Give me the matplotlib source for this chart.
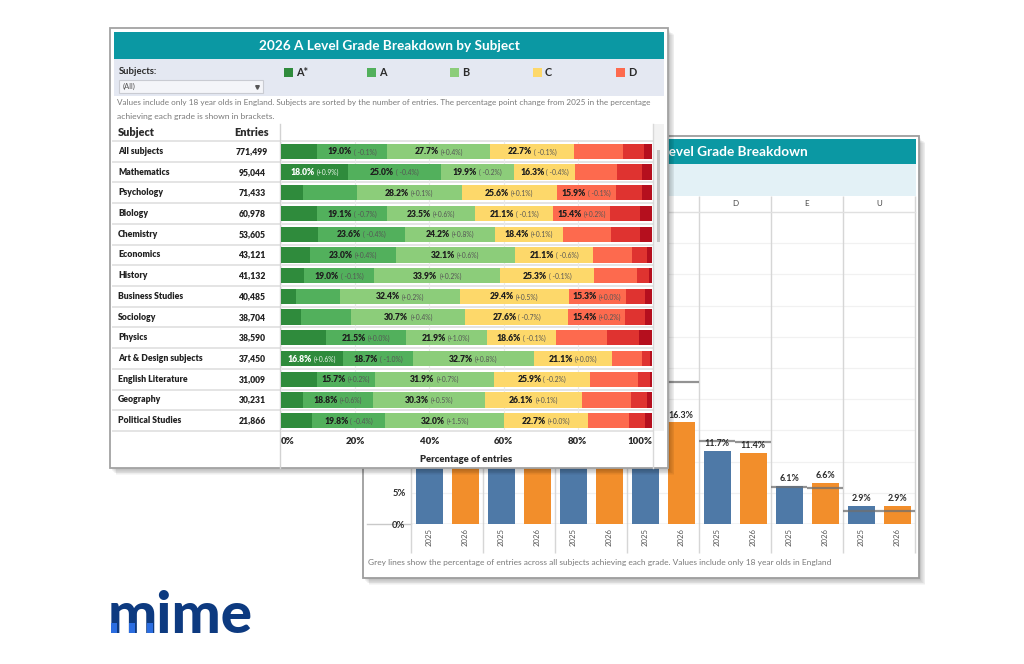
import matplotlib
matplotlib.use('Agg')
import matplotlib.pyplot as plt
import matplotlib.transforms as mtransforms
from matplotlib.patches import Rectangle
import numpy as np

plt.rcParams['font.family'] = ['Lato', 'DejaVu Sans']

# ---------------- data ----------------
grades = ["A*", "A", "B", "C", "D", "E", "U"]
subjects = ["All subjects", "Mathematics", "Psychology", "Biology", "Chemistry",
            "Economics", "History", "Business Studies", "Sociology", "Physics",
            "Art & Design subjects", "English Literature", "Geography", "Political Studies"]
entries = [771499, 95044, 71433, 60978, 53605, 43121, 41132, 40485, 38704, 38590,
           37450, 31009, 30231, 21866]

pct_a_star = [9.6, 18.0, 6.0, 9.6, 9.9, 7.9, 6.2, 4.0, 5.3, 12.1, 16.8, 9.7, 5.9, 8.3]
pct_a = [19.0, 25.0, 14.5, 19.1, 23.6, 23.0, 19.0, 11.8, 13.7, 21.5, 18.7, 15.7, 18.8, 19.8]
pct_b = [27.7, 19.9, 28.2, 23.5, 24.2, 32.1, 33.9, 32.4, 30.7, 21.9, 32.7, 31.9, 30.3, 32.0]
pct_c = [22.7, 16.3, 25.6, 21.1, 18.4, 21.1, 25.3, 29.4, 27.6, 18.6, 21.1, 25.9, 26.1, 22.7]
pct_d = [13.1, 11.4, 15.9, 15.4, 12.9, 10.5, 11.6, 15.3, 15.4, 13.8, 7.9, 13.0, 13.3, 11.1]
pct_e = [5.8, 6.6, 7.2, 8.1, 7.8, 4.0, 3.1, 5.2, 5.4, 8.5, 2.3, 3.2, 4.2, 4.3]
pct_u = [2.1, 2.9, 2.6, 3.2, 3.2, 1.4, 0.9, 1.9, 1.9, 3.6, 0.5, 0.6, 1.4, 1.8]

chg_a_star = [None, 0.9, None, None, None, None, None, None, None, None, 0.6, None, None, None]
chg_a = [-0.1, -0.4, None, -0.7, -0.4, 0.4, -0.1, None, None, 0.0, -1.0, 0.2, 0.6, -0.4]
chg_b = [0.4, -0.2, 0.1, 0.6, 0.8, 0.6, 0.2, 0.2, 0.4, 1.0, 0.8, 0.7, 0.5, 1.5]
chg_c = [-0.1, -0.4, 0.1, -0.1, 0.1, -0.6, -0.1, 0.5, -0.7, -0.1, 0.0, -0.2, 0.1, 0.0]
chg_d = [None, None, -0.1, 0.2, None, None, None, 0.0, 0.2, None, None, None, None, None]
chg_e = [None] * 14
chg_u = [None] * 14

years = ["2025", "2026"]
maths_2025 = [17.1, 25.4, 20.1, 16.7, 11.7, 6.1, 2.9]
maths_2026 = [18.0, 25.0, 19.9, 16.3, 11.4, 6.6, 2.9]
all_2025 = [9.4, 19.1, 27.3, 22.8, 13.3, 6.0, 2.1]
all_2026 = [9.6, 19.0, 27.7, 22.7, 13.1, 5.8, 2.1]

pct_cols = [pct_a_star, pct_a, pct_b, pct_c, pct_d, pct_e, pct_u]
chg_cols = [chg_a_star, chg_a, chg_b, chg_c, chg_d, chg_e, chg_u]

# ---------------- styles ----------------
grade_colors = ['#2f8b3c', '#52b05c', '#8ccd7a', '#fdd86a', '#fd6a4e', '#df3330', '#b50f1e']
teal = '#0b98a3'
c2025 = '#4e79a7'
c2026 = '#f28e2b'
txt = '#2b2b2b'

W, H = 1024, 664
fig = plt.figure(figsize=(10.24, 6.64), dpi=100)
fig.patch.set_facecolor('white')
renderer = fig.canvas.get_renderer()


def add_px_axes(x0, y0, x1, y1, z):
    ax = fig.add_axes([x0 / W, 1 - y1 / H, (x1 - x0) / W, (y1 - y0) / H])
    ax.set_zorder(z)
    return ax


def panel_axes(x0, y0, x1, y1, z):
    ax = add_px_axes(x0, y0, x1, y1, z)
    ax.set_xlim(x0, x1)
    ax.set_ylim(y1, y0)
    ax.axis('off')
    return ax


def shadow(ax, x, y, w, h, n=7):
    for k in range(n, 0, -1):
        ax.add_patch(Rectangle((x + k * 0.8, y + k * 0.9), w, h, facecolor='black',
                               alpha=0.035, edgecolor='none'))


back_texts = []

# ================= BACK PANEL =================
bx0, by0, bx1, by1 = 363, 136, 919, 578
bb = panel_axes(350, 125, 940, 595, 1)
shadow(bb, bx0, by0, bx1 - bx0, by1 - by0, n=8)
bb.add_patch(Rectangle((bx0, by0), bx1 - bx0, by1 - by0, facecolor='white',
                       edgecolor='#9d9d9d', lw=1.3))
bb.add_patch(Rectangle((366, 139), 550, 25, facecolor=teal, edgecolor='none'))
bb.text(808, 152, "Mathematics A Level Grade Breakdown", color='white',
        fontsize=9.8, fontweight='bold', ha='right', va='center')
bb.add_patch(Rectangle((366, 164), 550, 32, facecolor='#e3f1f6', edgecolor='none'))
bb.plot([367, 411], [524, 524], color='#c9c9c9', lw=1)
bb.text(368, 563, "Grey lines show the percentage of entries across all subjects achieving each grade. "
        "Values include only 18 year olds in England", color='#7a7a7a', fontsize=6.0,
        ha='left', va='center')

axb = add_px_axes(411, 212, 915, 524, 2)
axb.set_facecolor('white')
x = np.arange(len(grades))
axb.set_xlim(0, len(grades))
axb.set_ylim(0, 50)
for v in range(5, 50, 5):
    axb.axhline(v, color='#f1f1f1', lw=0.9, zorder=0)
axb.bar(x + 0.25, maths_2025, 0.375, color=c2025, zorder=2)
axb.bar(x + 0.75, maths_2026, 0.375, color=c2026, zorder=2)
axb.hlines(all_2025, x, x + 0.5, color='#6f6f6f', lw=1.6, alpha=0.75, zorder=3)
axb.hlines(all_2026, x + 0.5, x + 1.0, color='#6f6f6f', lw=1.6, alpha=0.75, zorder=3)
for xi, v in zip(x + 0.25, maths_2025):
    back_texts.append(axb.annotate(f"{v:.1f}%", (xi, v), xytext=(0, 2), textcoords='offset points',
                      ha='center', va='bottom', fontsize=6.4, fontweight='bold', color=txt,
                      zorder=4))
for xi, v in zip(x + 0.75, maths_2026):
    back_texts.append(axb.annotate(f"{v:.1f}%", (xi, v), xytext=(0, 2), textcoords='offset points',
                      ha='center', va='bottom', fontsize=6.4, fontweight='bold', color=txt,
                      zorder=4))
trb = mtransforms.blended_transform_factory(axb.transData, axb.transAxes)
axb.vlines(np.arange(0, len(grades) + 1), -0.093, 1.051, transform=trb, color='#d6d6d6',
           lw=1, clip_on=False, zorder=1)
axb.axhline(0, color='#c9c9c9', lw=1, zorder=1)
axb.plot([0, 1], [1.0, 1.0], transform=axb.transAxes, color='#e0e0e0', lw=1, clip_on=False)
for g, name in enumerate(grades):
    back_texts.append(axb.text(g + 0.5, 1.026, name, transform=trb, ha='center', va='center',
                               fontsize=5.8, color='#444444'))
for s in axb.spines.values():
    s.set_visible(False)
axb.set_yticks(range(0, 50, 5))
axb.set_yticklabels([f"{v}%" for v in range(0, 50, 5)], fontsize=6.8,
                    fontweight='bold', color=txt)
xt = np.concatenate([x + 0.25, x + 0.75])
axb.set_xticks(xt)
axb.set_xticklabels([years[0]] * len(grades) + [years[1]] * len(grades),
                    rotation=90, fontsize=5.6, color='#555555')
axb.tick_params(axis='both', length=0)
axb.tick_params(axis='y', pad=4)
axb.tick_params(axis='x', pad=3)

# ================= FRONT PANEL =================
fx0, fy0, fx1, fy1 = 110, 28, 668, 468
fb = panel_axes(100, 20, 685, 485, 5)
shadow(fb, fx0, fy0, fx1 - fx0, fy1 - fy0, n=8)
fb.add_patch(Rectangle((fx0, fy0), fx1 - fx0, fy1 - fy0, facecolor='white',
                       edgecolor='#a3a3a3', lw=1.3))
fb.add_patch(Rectangle((114, 32), 550, 27, facecolor=teal, edgecolor='none'))
fb.text(389, 46, "2026 A Level Grade Breakdown by Subject", color='white',
        fontsize=9.8, fontweight='bold', ha='center', va='center')
fb.add_patch(Rectangle((114, 59), 550, 37, facecolor='#e4e8f2', edgecolor='none'))
fb.text(119, 71, "Subjects:", fontsize=6.8, fontweight='bold', color=txt, va='center')
fb.add_patch(Rectangle((119, 80), 144, 13, facecolor='#f4f5f9', edgecolor='#c9cbd2', lw=0.8))
fb.text(123, 86.5, "(All)", fontsize=5.4, color='#555555', va='center')
fb.plot(257, 86.5, marker='v', ms=2.6, color='#555555', ls='none')
for i, g in enumerate(grades[:5]):
    lx = 284 + i * 83
    fb.add_patch(Rectangle((lx, 67.5), 9, 9, facecolor=grade_colors[i], edgecolor='none'))
    fb.text(lx + 12, 72.5, g, fontsize=7.8, fontweight='bold', color=txt, va='center')
note1 = fb.text(117, 102, "Values include only 18 year olds in England. Subjects are sorted by "
                "the number of entries. The percentage point change from 2025 in the percentage",
                fontsize=6.1, color='#7a7a7a', va='center')
fb.text(117, 116, "achieving each grade is shown in brackets.", fontsize=6.1,
        color='#7a7a7a', va='center')
fb.text(118, 133, "Subject", fontsize=7.8, fontweight='heavy', color=txt, va='center')
fb.text(252, 133, "Entries", fontsize=7.8, fontweight='heavy', color=txt, va='center', ha='center')
row_h = (431 - 141) / len(subjects)
for i in range(len(subjects) + 1):
    yy = 141 + i * row_h
    fb.plot([113, 652], [yy, yy], color='#e4e4e4', lw=1.4)
for i, (s, n) in enumerate(zip(subjects, entries)):
    yc = 141 + (i + 0.5) * row_h
    fb.text(118, yc, s, fontsize=6.2, fontweight='heavy', color='#222222', va='center')
    fb.text(252, yc, f"{n:,}", fontsize=6.2, fontweight='heavy', color='#222222',
            va='center', ha='center')
fb.plot([280, 280], [124, 468], color='#d2d2d2', lw=1)
fb.plot([652.5, 652.5], [124, 468], color='#d9d9d9', lw=1)
fb.add_patch(Rectangle((653, 124), 11, 307, facecolor='#f2f2f2', edgecolor='none'))
fb.add_patch(Rectangle((656.5, 150), 3, 92, facecolor='#c3c3c3', edgecolor='none'))

axf = add_px_axes(281, 141, 652, 431, 6)
axf.set_facecolor('none')
axf.set_xlim(0, 100)
axf.set_ylim(len(subjects) - 0.5, -0.5)
axf.set_axisbelow(True)
axf.xaxis.grid(True, color='#eaeaea', lw=0.8)
rows = np.arange(len(subjects))
left = np.zeros(len(subjects))
inv = axf.transData.inverted()
for gi, col in enumerate(pct_cols):
    vals = np.array(col)
    axf.barh(rows, vals, left=left, height=0.74, color=grade_colors[gi], edgecolor='none',
             zorder=2)
    for r in rows:
        v = vals[r]
        c = chg_cols[gi][r]
        if v >= 15 and c is not None:
            ctxt = f"(+{c:.1f}%)" if c >= 0 else f"( {c:.1f}%)"
            fc = 'white' if gi == 0 else '#1e1e1e'
            cc = '#eef7ee' if gi == 0 else '#555555'
            cx = left[r] + v / 2
            yb = r + 0.15
            t1 = axf.text(cx, yb, f"{v:.1f}%", fontsize=6.2, fontweight='heavy', color=fc,
                          ha='left', va='baseline', zorder=4)
            t2 = axf.text(cx, yb, ctxt, fontsize=4.9, color=cc, ha='left', va='baseline',
                          zorder=4)
            w1 = t1.get_window_extent(renderer).width
            w2 = t2.get_window_extent(renderer).width
            gap = 2.0
            cpx, cpy = axf.transData.transform((cx, yb))
            x1d = inv.transform((cpx - (w1 + gap + w2) / 2, cpy))[0]
            x2d = inv.transform((cpx - (w1 + gap + w2) / 2 + w1 + gap, cpy))[0]
            t1.set_x(x1d)
            t2.set_x(x2d)
    left = left + vals
for s in axf.spines.values():
    s.set_visible(False)
axf.set_yticks([])
ticks = [0, 20, 40, 60, 80, 100]
axf.set_xticks(ticks)
labs = axf.set_xticklabels([f"{t}%" for t in ticks], fontsize=6.9, fontweight='heavy', color=txt)
labs[0].set_ha('left')
labs[-1].set_ha('right')
axf.tick_params(axis='x', length=0, pad=4)
axf.set_xlabel("Percentage of entries", fontsize=6.8, fontweight='heavy', color=txt, labelpad=7)

# ================= LOGO =================
fig.text(108 / W, 1 - 633 / H, "mime", fontsize=42, fontweight='black', color='#0d3a80',
         ha='left', va='baseline', zorder=3)
for bx in (110.5, 128.5, 146.5):
    fig.patches.append(Rectangle((bx / W, 1 - 633 / H), 6.5 / W, 10 / H, facecolor='#2b6de0',
                                 edgecolor='none', transform=fig.transFigure, figure=fig,
                                 zorder=10))

# keep the long note inside the panel (it should end near x = 658 px)
fig.canvas.draw()
for _ in range(6):
    ext = note1.get_window_extent(renderer)
    if ext.x1 <= 659:
        break
    note1.set_fontsize(note1.get_fontsize() - 0.1)

# hide back-panel texts that lie completely under the front panel (occluded anyway)
front_box = mtransforms.Bbox.from_extents(fx0, H - fy1, fx1 + 8, H - fy0)
cands = list(back_texts)
for tk in axb.yaxis.get_major_ticks() + axb.xaxis.get_major_ticks():
    cands.append(tk.label1)
for t in cands:
    bbx = t.get_window_extent(renderer)
    if (bbx.x0 >= front_box.x0 - 1 and bbx.x1 <= front_box.x1 and
            bbx.y0 >= front_box.y0 - 1 and bbx.y1 <= front_box.y1):
        t.set_visible(False)

fig.savefig('out.png', dpi=100)
